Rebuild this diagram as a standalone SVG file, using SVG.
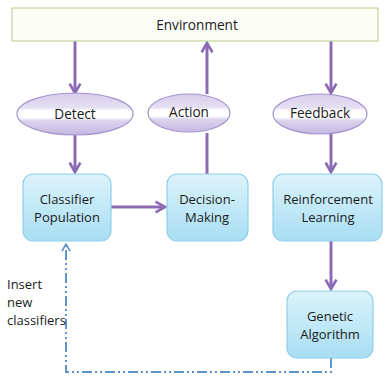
<svg xmlns="http://www.w3.org/2000/svg" width="385" height="378" viewBox="0 0 385 378">
  <style>
    .lbl { font-family: "Open Sans", "Liberation Sans", sans-serif; font-size: 13px; fill: #1a1a1a; text-anchor: middle; }
    .big { font-size: 13.6px; }
    .side { font-family: "Open Sans", "Liberation Sans", sans-serif; font-size: 13px; fill: #1a1a1a; }
    .box { fill: url(#boxFill); stroke: #8ecfe8; stroke-width: 1.2; }
    .oval { fill: url(#ovalFill); stroke: #a394cc; stroke-width: 1.2; }
    .flow { stroke: #8a6bb4; stroke-width: 3; fill: none; marker-end: url(#purpleHead); }
    .link { stroke: #8a6bb4; stroke-width: 3; fill: none; }
    .insert { stroke: #5f94c8; stroke-width: 2; fill: none; stroke-dasharray: 10 3 2 3 2 3; }
  </style>
  <defs>
    <linearGradient id="boxFill" x1="0" y1="0" x2="0" y2="1">
      <stop offset="0" stop-color="#dcf3fc"/>
      <stop offset="1" stop-color="#a8def3"/>
    </linearGradient>
    <linearGradient id="ovalFill" x1="0" y1="0" x2="0" y2="1">
      <stop offset="0" stop-color="#d6cceb"/>
      <stop offset="0.35" stop-color="#e6e0f3"/>
      <stop offset="0.42" stop-color="#ffffff"/>
      <stop offset="0.58" stop-color="#ffffff"/>
      <stop offset="0.66" stop-color="#ddd5ee"/>
      <stop offset="1" stop-color="#c4b7e0"/>
    </linearGradient>
    <marker id="purpleHead" viewBox="0 0 10 10" refX="8" refY="5" markerWidth="4.5" markerHeight="4.5" orient="auto" markerUnits="strokeWidth">
      <path d="M1,1 L8,5 L1,9" fill="none" stroke="#8a6bb4" stroke-width="2"/>
    </marker>
    <marker id="blueHead" viewBox="0 0 10 10" refX="8" refY="5" markerWidth="5" markerHeight="5" orient="auto" markerUnits="strokeWidth">
      <path d="M1,1 L8,5 L1,9" fill="none" stroke="#5f94c8" stroke-width="1.6"/>
    </marker>
  </defs>

  <rect width="385" height="378" fill="#ffffff"/>

  <!-- connectors -->
  <g id="connectors">
    <line class="flow" x1="75" y1="41" x2="75" y2="93"/>
    <line class="flow" x1="207" y1="94" x2="207" y2="43"/>
    <line class="flow" x1="331" y1="41" x2="331" y2="93"/>
    <line class="flow" x1="75" y1="135" x2="75" y2="172"/>
    <line class="link" x1="207" y1="174" x2="207" y2="133"/>
    <line class="flow" x1="331" y1="134" x2="331" y2="172"/>
    <line class="flow" x1="111" y1="207" x2="165" y2="207"/>
    <line class="flow" x1="331" y1="240" x2="331" y2="289"/>
    <path class="insert" d="M331,358 L331,372 L66,372 L66,244" marker-end="url(#blueHead)"/>
  </g>

  <g id="environment">
    <rect x="12" y="8" width="366" height="33" fill="#fdfdf7" stroke="#c2d59a" stroke-width="1.2"/>
    <text class="lbl big" x="197" y="30">Environment</text>
  </g>

  <g id="detect">
    <ellipse class="oval" cx="75" cy="114" rx="58" ry="21"/>
    <text class="lbl big" x="75" y="119">Detect</text>
  </g>
  <g id="action">
    <ellipse class="oval" cx="189" cy="113" rx="41" ry="19"/>
    <text class="lbl big" x="189" y="117">Action</text>
  </g>
  <g id="feedback">
    <ellipse class="oval" cx="320" cy="114" rx="47" ry="20"/>
    <text class="lbl big" x="320" y="118">Feedback</text>
  </g>

  <g id="classifier-population">
    <rect class="box" x="23" y="174" width="88" height="67" rx="10"/>
    <text class="lbl" x="67" y="204">Classifier</text>
    <text class="lbl" x="67" y="222">Population</text>
  </g>
  <g id="decision-making">
    <rect class="box" x="167" y="174" width="81" height="67" rx="10"/>
    <text class="lbl" x="207" y="204">Decision-</text>
    <text class="lbl" x="207" y="222">Making</text>
  </g>
  <g id="reinforcement-learning">
    <rect class="box" x="273" y="174" width="109" height="67" rx="10"/>
    <text class="lbl" x="328" y="204">Reinforcement</text>
    <text class="lbl" x="328" y="222">Learning</text>
  </g>
  <g id="genetic-algorithm">
    <rect class="box" x="287" y="291" width="86" height="67" rx="10"/>
    <text class="lbl" x="330" y="321">Genetic</text>
    <text class="lbl" x="330" y="339">Algorithm</text>
  </g>

  <g id="insert-label">
    <text class="side" x="7" y="289">Insert</text>
    <text class="side" x="7" y="307">new</text>
    <text class="side" x="7" y="325">classifiers</text>
  </g>
</svg>
